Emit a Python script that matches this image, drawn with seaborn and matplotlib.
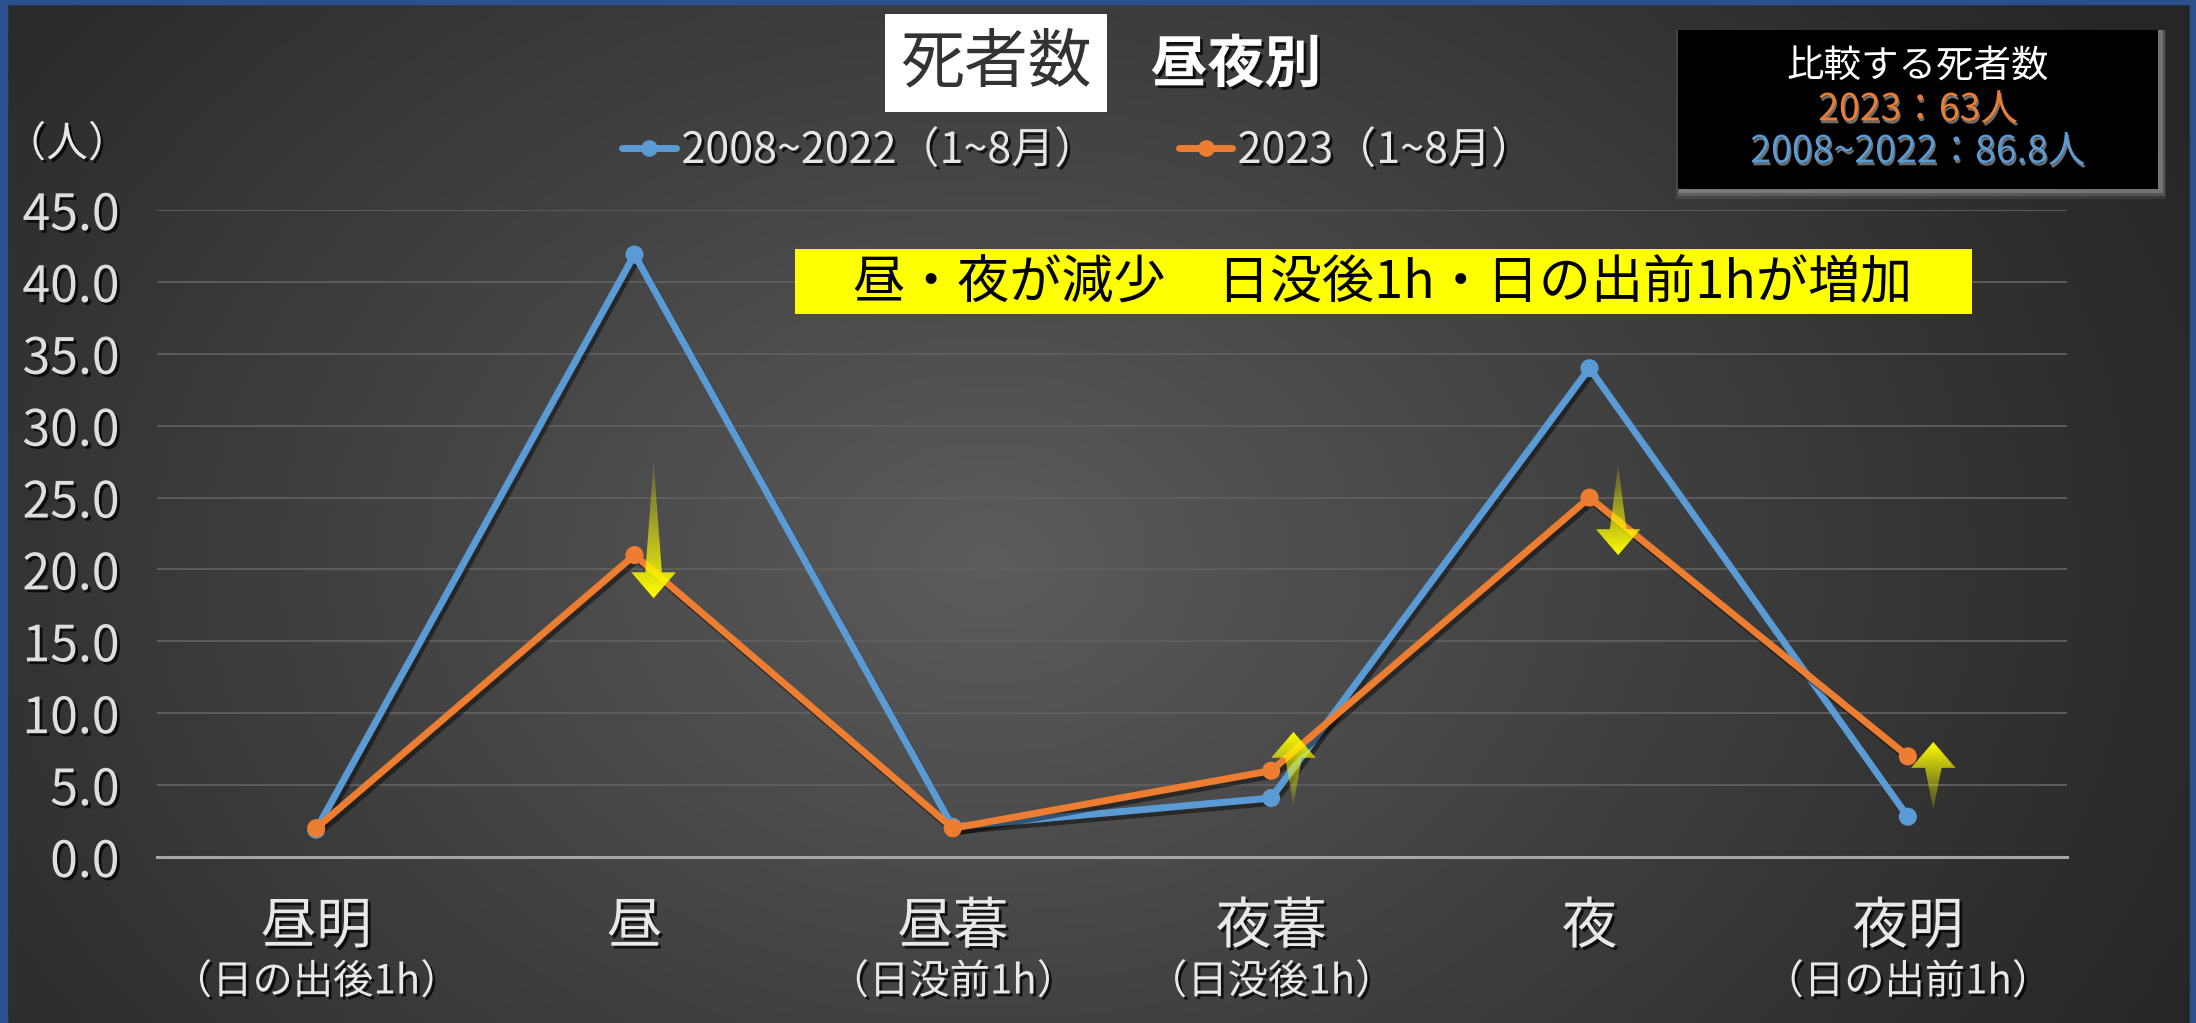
import numpy as np
import pandas as pd
import matplotlib
matplotlib.use("Agg")
import matplotlib.pyplot as plt
import seaborn as sns
import matplotlib.patheffects as pe
from matplotlib.patches import Rectangle, Polygon
from matplotlib.lines import Line2D
from matplotlib import transforms

# ---------------- data ----------------
categories = ["昼明", "昼", "昼暮", "夜暮", "夜", "夜明"]
sublabels = ["（日の出後1h）", "", "（日没前1h）", "（日没後1h）", "", "（日の出前1h）"]
series_names = ["2008~2022（1~8月）", "2023（1~8月）"]
avg_2008_2022 = [1.9, 41.9, 2.1, 4.1, 34.0, 2.8]
deaths_2023 = [2, 21, 2, 6, 25, 7]
yticks = [0, 5, 10, 15, 20, 25, 30, 35, 40, 45]
series_colors = ["#5B9BD5", "#ED7D31"]
# annotation arrows: (category index, x offset, y tail, y head)
arrows = [(1, 0.06, 27.5, 18.0), (3, 0.07, 3.6, 8.7), (4, 0.09, 27.3, 21.0), (5, 0.08, 3.3, 8.0)]

sns.set_theme(style="dark")
plt.rcParams["font.family"] = ["Noto Sans CJK JP", "DejaVu Sans"]
plt.rcParams["axes.unicode_minus"] = False

W, H = 2196, 1023
fig = plt.figure(figsize=(W / 100, H / 100), dpi=100)
fig.patch.set_facecolor("#2a2a2a")

def fx(x):
    return x / W

def fy(y):
    return 1 - y / H

# ---------------- background gradient ----------------
bg = fig.add_axes([0, 0, 1, 1], zorder=-10)
gx, gy = np.meshgrid(np.linspace(0, 1, 440), np.linspace(0, 1, 205))
d = np.sqrt(((gx - 0.45) / 0.62) ** 2 + ((gy - 0.55) / 1.0) ** 2)
v = np.clip(1 - d, 0, 1) ** 1.1
dark, light = 38 / 255, 92 / 255
g = dark + (light - dark) * v
img = np.dstack([g, g, g])
bg.imshow(img, aspect="auto", extent=[0, 1, 0, 1], origin="upper")
bg.set_xlim(0, 1)
bg.set_ylim(0, 1)
bg.axis("off")

# blue frame
frame_c = "#2c4f8e"
fig.patches.append(Rectangle((0, fy(4)), 1, 4 / H, transform=fig.transFigure, color=frame_c, zorder=5))
fig.patches.append(Rectangle((0, 0), 7 / W, 1, transform=fig.transFigure, color=frame_c, zorder=5))
fig.patches.append(Rectangle((1 - 6 / W, 0), 6 / W, 1, transform=fig.transFigure, color=frame_c, zorder=5))

# ---------------- main axes ----------------
ax = fig.add_axes([fx(157), fy(857), fx(2067 - 157), (857 - 210) / H])
ax.set_facecolor("none")

df = pd.DataFrame({
    "時間帯": categories * 2,
    "死者数": avg_2008_2022 + deaths_2023,
    "系列": [series_names[0]] * len(categories) + [series_names[1]] * len(categories),
})
palette = dict(zip(series_names, series_colors))
sns.lineplot(data=df, x="時間帯", y="死者数", hue="系列", hue_order=series_names,
             palette=palette, marker="o", markersize=13, markeredgewidth=0,
             linewidth=5, sort=False, errorbar=None, legend=False, ax=ax)

line_fx = [pe.SimpleLineShadow(offset=(2, -3), shadow_color="black", alpha=0.45), pe.Normal()]
for ln in ax.lines:
    ln.set_path_effects(line_fx)
    ln.set_clip_on(False)

ax.set_xlim(-0.5, len(categories) - 0.5)
ax.set_ylim(0, 45)
ax.set_yticks(yticks)
ax.set_yticklabels([f"{t:.1f}" for t in yticks])
ax.set_xticks(range(len(categories)))
ax.set_xticklabels(categories)
ax.set_xlabel("")
ax.set_ylabel("")
ax.yaxis.grid(True, color="#5f5f5f", linewidth=1.3)
ax.xaxis.grid(False)
ax.set_axisbelow(True)
for s in ["top", "right", "left"]:
    ax.spines[s].set_visible(False)
ax.spines["bottom"].set_color("#a5a5a5")
ax.spines["bottom"].set_linewidth(2.2)

txt_shadow = [pe.withSimplePatchShadow(offset=(2, -2), shadow_rgbFace="black", alpha=0.75)]
ax.tick_params(axis="y", length=0, pad=27, labelsize=36, labelcolor="#dedede")
ax.tick_params(axis="x", length=0, pad=30, labelsize=40, labelcolor="#e8e8e8")
for lbl in ax.get_yticklabels() + ax.get_xticklabels():
    lbl.set_path_effects(txt_shadow)

# sub labels under categories
blend = transforms.blended_transform_factory(ax.transData, fig.transFigure)
for i, s in enumerate(sublabels):
    if s:
        ax.text(i, fy(982), s, transform=blend, ha="center", va="center", fontsize=29,
                color="#e8e8e8", path_effects=txt_shadow)

# gradient arrows
for ci, dx, yt, yh in arrows:
    xc = ci + dx
    sgn = 1 if yh > yt else -1
    hl, hw, sw = 1.8, 0.07, 0.026
    yb = yh - sgn * hl
    verts = [(xc, yt), (xc + sw, yb), (xc + hw, yb), (xc, yh), (xc - hw, yb), (xc - sw, yb)]
    poly = Polygon(verts, closed=True, facecolor="none", edgecolor="none", transform=ax.transData)
    ax.add_patch(poly)
    n = 120
    ys = np.linspace(min(yt, yh), max(yt, yh), n)
    t = (ys - yt) / (yh - yt)
    grad = np.zeros((n, 1, 4))
    grad[..., 0] = 1.0
    grad[..., 1] = 1.0
    grad[..., 2] = 0.0
    grad[:, 0, 3] = 0.15 + 0.85 * np.clip(t, 0, 1) ** 1.2
    im = ax.imshow(grad, extent=(xc - hw, xc + hw, min(yt, yh), max(yt, yh)),
                   origin="lower", aspect="auto", zorder=6, interpolation="bilinear")
    im.set_clip_path(poly)

ax.set_xlim(-0.5, len(categories) - 0.5)
ax.set_ylim(0, 45)

# ---------------- texts ----------------
fig.text(fx(996), fy(63), "死者数", ha="center", va="center", fontsize=46, color="#333333",
         bbox=dict(boxstyle="square,pad=0.24", facecolor="white", edgecolor="none"))
fig.text(fx(1236), fy(65), "昼夜別", ha="center", va="center", fontsize=41, fontweight="bold",
         color="white", path_effects=txt_shadow)
fig.text(fx(67), fy(145), "（人）", ha="center", va="center", fontsize=30, color="#e8e8e8",
         path_effects=txt_shadow)

handles = [Line2D([0], [0], color=c, lw=5, marker="o", markersize=12, markeredgewidth=0)
           for c in series_colors]
leg = fig.legend(handles, series_names, loc="center", bbox_to_anchor=(fx(1078), fy(151)),
                 ncol=2, frameon=False, fontsize=31, handlelength=1.25, handletextpad=0.12,
                 columnspacing=1.9, labelcolor="#e6e6e6")
for t in leg.get_texts():
    t.set_path_effects(txt_shadow)

# yellow message box
fig.patches.append(Rectangle((fx(795), fy(314)), fx(1972 - 795), (314 - 249) / H,
                             transform=fig.transFigure, facecolor="#ffff00", edgecolor="none", zorder=3))
fig.text(fx(1383), fy(282), "昼・夜が減少　日没後1h・日の出前1hが増加", ha="center", va="center",
         fontsize=37.5, color="black", zorder=4)

# black comparison box with soft shadow
for k, a in [(10, 0.12), (7, 0.2), (4, 0.3)]:
    fig.patches.append(Rectangle((fx(1678 - k / 2 + 3), fy(189 + k)), fx(480 + k), (159 + k) / H,
                                 transform=fig.transFigure, facecolor="#bdbdbd", edgecolor="none",
                                 alpha=a, zorder=2))
fig.patches.append(Rectangle((fx(1678), fy(189)), fx(480), 159 / H, transform=fig.transFigure,
                             facecolor="black", edgecolor="none", zorder=3))
box_shadow = [pe.withSimplePatchShadow(offset=(1, -2), shadow_rgbFace="#888888", alpha=0.8)]
fig.text(fx(1918), fy(67), "比較する死者数", ha="center", va="center", fontsize=27, color="white", zorder=4)
fig.text(fx(1918), fy(110), "2023：63人", ha="center", va="center", fontsize=27,
         color=series_colors[1], zorder=4, path_effects=box_shadow)
fig.text(fx(1918), fy(152), "2008~2022：86.8人", ha="center", va="center", fontsize=27,
         color=series_colors[0], zorder=4, path_effects=box_shadow)

fig.savefig("out.png", dpi=100, facecolor=fig.get_facecolor())
